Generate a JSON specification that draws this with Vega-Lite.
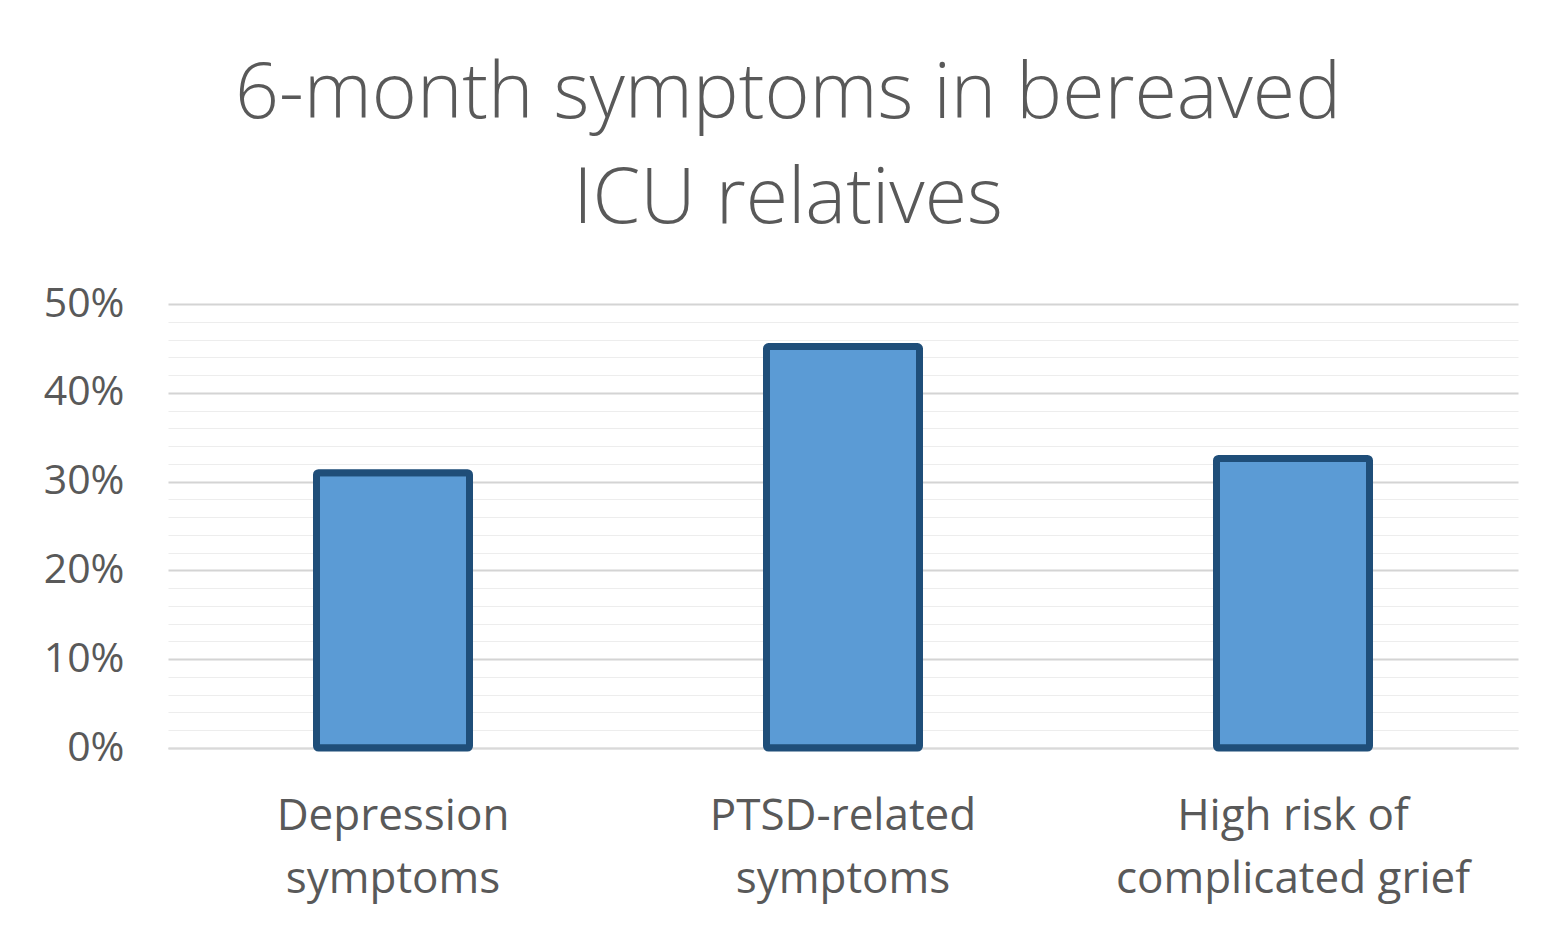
{
  "$schema": "https://vega.github.io/schema/vega-lite/v6.json",
  "autosize": {"type": "none"},
  "width": 1350,
  "height": 444,
  "padding": {"left": 168, "top": 304, "right": 24, "bottom": 183},
  "background": "white",
  "title": {
    "text": ["6-month symptoms in bereaved", "ICU relatives"],
    "font": "Open Sans",
    "fontWeight": 300,
    "fontSize": 77,
    "color": "#595959",
    "lineHeight": 105,
    "anchor": "middle",
    "dx": -55,
    "offset": 44
  },
  "data": {
    "values": [
      {"category": "Depression symptoms", "value": 0.31},
      {"category": "PTSD-related symptoms", "value": 0.452},
      {"category": "High risk of complicated grief", "value": 0.326}
    ]
  },
  "mark": {
    "type": "bar",
    "fill": "#5B9BD5",
    "stroke": "#1F4E79",
    "strokeWidth": 7,
    "cornerRadius": 2,
    "size": 153
  },
  "encoding": {
    "x": {
      "field": "category",
      "type": "nominal",
      "sort": null,
      "scale": {"paddingInner": 0, "paddingOuter": 0},
      "axis": {
        "title": null,
        "labelAngle": 0,
        "labelExpr": "datum.value == 'Depression symptoms' ? ['Depression', 'symptoms'] : datum.value == 'PTSD-related symptoms' ? ['PTSD-related', 'symptoms'] : ['High risk of', 'complicated grief']",
        "labelFont": "Open Sans",
        "labelFontSize": 44,
        "labelColor": "#595959",
        "labelLineHeight": 63,
        "labelPadding": 46,
        "labelLimit": 0,
        "ticks": false,
        "domain": true,
        "domainColor": "#D9D9D9",
        "domainWidth": 1.5,
        "grid": false
      }
    },
    "y": {
      "field": "value",
      "type": "quantitative",
      "scale": {"domain": [0, 0.5], "nice": false},
      "axis": {
        "title": null,
        "values": [0, 0.02, 0.04, 0.06, 0.08, 0.1, 0.12, 0.14, 0.16, 0.18, 0.2, 0.22, 0.24, 0.26, 0.28, 0.3, 0.32, 0.34, 0.36, 0.38, 0.4, 0.42, 0.44, 0.46, 0.48, 0.5],
        "labelExpr": "round(datum.value * 100) % 10 == 0 ? format(datum.value, '.0%') : ''",
        "labelFont": "Open Sans",
        "labelFontSize": 41,
        "labelColor": "#595959",
        "labelPadding": 44,
        "labelBound": false,
        "labelOverlap": false,
        "labelFlush": false,
        "ticks": false,
        "domain": false,
        "grid": true,
        "gridColor": {"condition": {"test": "round(datum.value * 100) % 10 == 0", "value": "#D4D4D4"}, "value": "#EDEDED"},
        "gridWidth": {"condition": {"test": "round(datum.value * 100) % 10 == 0", "value": 1.8}, "value": 1}
      }
    }
  },
  "config": {"view": {"stroke": null}}
}
